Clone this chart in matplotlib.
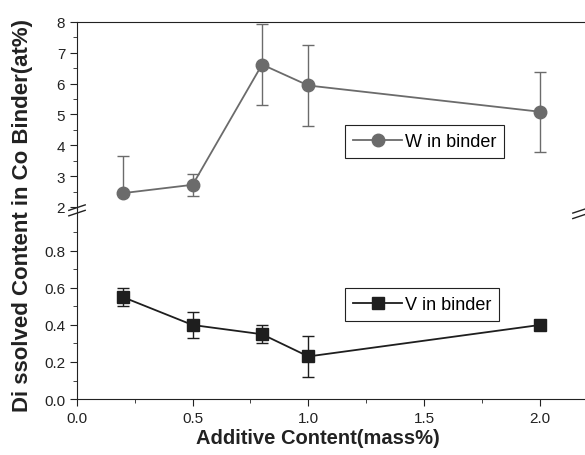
import numpy as np
import matplotlib
matplotlib.use("Agg")
from matplotlib import pyplot as plt
from matplotlib.lines import Line2D

plt.rcParams['font.family'] = ['Liberation Sans', 'DejaVu Sans']

# %% data
additive = [0.2, 0.5, 0.8, 1.0, 2.0]          # mass%
w_binder = [2.45, 2.72, 6.62, 5.94, 5.09]     # at%
w_err_lo = [0.0, 0.36, 1.3, 1.3, 1.3]
w_err_hi = [1.2, 0.36, 1.3, 1.3, 1.3]
v_binder = [0.55, 0.40, 0.35, 0.23, 0.40]     # at%
v_err = [0.05, 0.07, 0.05, 0.11, 0.0]

x_ticks = [0.0, 0.5, 1.0, 1.5, 2.0]
top_ticks = [2, 3, 4, 5, 6, 7, 8]
bot_ticks = [0.0, 0.2, 0.4, 0.6, 0.8]

w_col = '#6b6b6b'
v_col = '#1e1e1e'
txt_col = '#222222'

# %% figure
fig = plt.figure(figsize=(5.85, 4.56), dpi=100)
ax_b = fig.add_axes([0.1316, 0.1228, 0.87, 0.4167])
ax_t = fig.add_axes([0.1316, 0.5395, 0.87, 0.4101], sharex=ax_b)

ax_t.errorbar(additive, w_binder, yerr=[w_err_lo, w_err_hi], color=w_col, marker='o', ms=9,
              lw=1.3, capsize=4, elinewidth=1.0, capthick=1.0)
ax_b.errorbar(additive, v_binder, yerr=v_err, color=v_col, marker='s', ms=8,
              lw=1.3, capsize=4, elinewidth=1.0, capthick=1.0)

ax_b.set_xlim(0, 2.2)
ax_b.set_ylim(0, 1.027)
ax_t.set_ylim(1.935, 8)

ax_b.set_xticks(x_ticks)
ax_b.set_xticks(np.arange(0, 2.2, 0.25), minor=True)
ax_b.set_yticks(bot_ticks)
ax_b.set_yticks(np.arange(0, 1.0, 0.1), minor=True)
ax_t.set_yticks(top_ticks)
ax_t.set_yticks(np.arange(2, 8.01, 0.5), minor=True)

for ax in (ax_t, ax_b):
    ax.spines['right'].set_visible(False)
    for s in ax.spines.values():
        s.set_color(txt_col)
    ax.tick_params(which='both', direction='out', labelsize=11, colors=txt_col)
    ax.tick_params(which='major', length=5)
    ax.tick_params(which='minor', length=3)
    ax.set_facecolor('none')
ax_b.spines['top'].set_visible(False)
ax_t.spines['bottom'].set_visible(False)
ax_t.tick_params(axis='x', which='both', bottom=False, top=False, labelbottom=False)
ax_b.tick_params(axis='x', which='both', top=False)
ax_b.tick_params(axis='y', which='both', right=False)
ax_t.tick_params(axis='y', which='both', right=False)

ax_b.set_yticklabels(['%.1f' % t for t in bot_ticks])
ax_b.set_xticklabels(['%.1f' % t for t in x_ticks])

# axis break marks
for xf, yoff in [(77 / 585, 0.0), (581 / 585, -0.006)]:
    for dy in (0.003, -0.009):
        yc = 0.5395 + dy + yoff
        fig.add_artist(Line2D([xf - 0.014, xf + 0.014], [yc - 0.006, yc + 0.006],
                              color=txt_col, lw=1.0, transform=fig.transFigure))

# legends (plain line + marker handles)
w_handle = Line2D([], [], color=w_col, marker='o', ms=9, lw=1.3)
v_handle = Line2D([], [], color=v_col, marker='s', ms=8, lw=1.3)
leg_kw = dict(loc='upper left', bbox_transform=fig.transFigure, frameon=True, fancybox=False,
              edgecolor=txt_col, fontsize=13, handlelength=2.7, borderpad=0.45,
              borderaxespad=0, handletextpad=0.15, framealpha=1)
lw_ = ax_t.legend([w_handle], ['W in binder'], bbox_to_anchor=(0.590, 0.7237), **leg_kw)
lv_ = ax_b.legend([v_handle], ['V in binder'], bbox_to_anchor=(0.590, 0.366), **leg_kw)
for leg in (lw_, lv_):
    leg.get_frame().set_linewidth(0.8)

fig.text(0.544, 0.018, 'Additive Content(mass%)', ha='center', va='bottom',
         fontsize=14.5, fontweight='bold', color=txt_col)
fig.text(0.038, 0.528, 'Di ssolved Content in Co Binder(at%)', ha='center', va='center',
         rotation=90, fontsize=16, fontweight='bold', color=txt_col)

fig.savefig('out.png', dpi=100)
